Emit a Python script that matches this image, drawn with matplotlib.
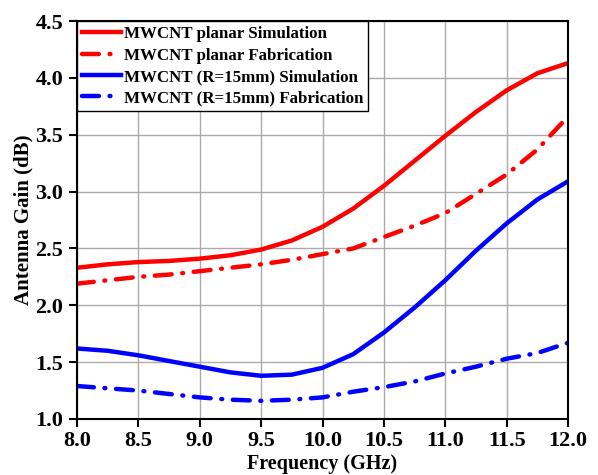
import numpy as np
import matplotlib
matplotlib.use("Agg")
import matplotlib.pyplot as plt

# Frequency points (GHz)
freq = [8.0, 8.25, 8.5, 8.75, 9.0, 9.25, 9.5, 9.75, 10.0, 10.25, 10.5,
        10.75, 11.0, 11.25, 11.5, 11.75, 12.0]

# Antenna gain (dB)
planar_sim = [2.33, 2.36, 2.38, 2.39, 2.41, 2.44, 2.49, 2.57, 2.69, 2.85, 3.05,
              3.27, 3.49, 3.70, 3.89, 4.04, 4.13]
planar_fab = [2.19, 2.22, 2.25, 2.27, 2.30, 2.33, 2.36, 2.40, 2.45, 2.50, 2.60,
              2.70, 2.81, 2.98, 3.15, 3.37, 3.66]
bent_sim = [1.62, 1.60, 1.56, 1.51, 1.46, 1.41, 1.38, 1.39, 1.45, 1.57, 1.76,
            1.98, 2.22, 2.48, 2.72, 2.93, 3.09]
bent_fab = [1.29, 1.27, 1.25, 1.22, 1.19, 1.17, 1.16, 1.17, 1.19, 1.24, 1.28,
            1.33, 1.40, 1.46, 1.53, 1.58, 1.67]

labels = ["MWCNT planar Simulation", "MWCNT planar Fabrication",
          "MWCNT (R=15mm) Simulation", "MWCNT (R=15mm) Fabrication"]

plt.rcParams['font.family'] = ['Liberation Serif', 'DejaVu Serif']
plt.rcParams['font.weight'] = 'bold'

fig = plt.figure(figsize=(5.98, 4.75), dpi=100)
ax = fig.add_axes([77 / 598, 1 - 419 / 475, 491 / 598, 398 / 475])

dashdot = (0, (3.8, 2.4, 0.2, 2.4))
lw = 3.2
ax.plot(freq, planar_sim, color='#ff0000', lw=lw, label=labels[0])
ax.plot(freq, planar_fab, color='#ff0000', lw=lw, ls=dashdot,
        dash_capstyle='round', label=labels[1])
ax.plot(freq, bent_sim, color='#0000ff', lw=lw, label=labels[2])
ax.plot(freq, bent_fab, color='#0000ff', lw=lw, ls=dashdot,
        dash_capstyle='round', label=labels[3])

ax.set_xlim(8.0, 12.0)
ax.set_ylim(1.0, 4.5)
ax.set_xticks(np.arange(8.0, 12.01, 0.5))
ax.set_yticks(np.arange(1.0, 4.51, 0.5))
ax.xaxis.set_major_formatter(matplotlib.ticker.FormatStrFormatter('%.1f'))
ax.yaxis.set_major_formatter(matplotlib.ticker.FormatStrFormatter('%.1f'))
ax.grid(True, color='#aaaaaa', lw=1.0)
ax.set_axisbelow(True)

for s in ax.spines.values():
    s.set_linewidth(1.5)
    s.set_color('black')
ax.tick_params(direction='out', length=6, width=1.5, labelsize=16, pad=4)
ax.tick_params(axis='x', pad=3)
for t in ax.get_xticklabels() + ax.get_yticklabels():
    t.set_fontweight('bold')

ax.set_xlabel('Frequency (GHz)', fontsize=14.5, fontweight='bold', va='bottom')
ax.set_ylabel('Antenna Gain (dB)', fontsize=15, fontweight='bold', va='center')
ax.xaxis.set_label_coords(0.5, -0.137)
ax.yaxis.set_label_coords(-0.108, 0.5)

leg = ax.legend(loc='upper left', prop={'weight': 'bold', 'size': 12.2},
                frameon=True, fancybox=False, borderaxespad=0, handlelength=2.3,
                handletextpad=0.15, labelspacing=0.32, borderpad=0.3)
leg.get_frame().set_edgecolor('black')
leg.get_frame().set_linewidth(1.0)
leg.get_frame().set_alpha(1.0)

fig.savefig('out.png', dpi=100)
